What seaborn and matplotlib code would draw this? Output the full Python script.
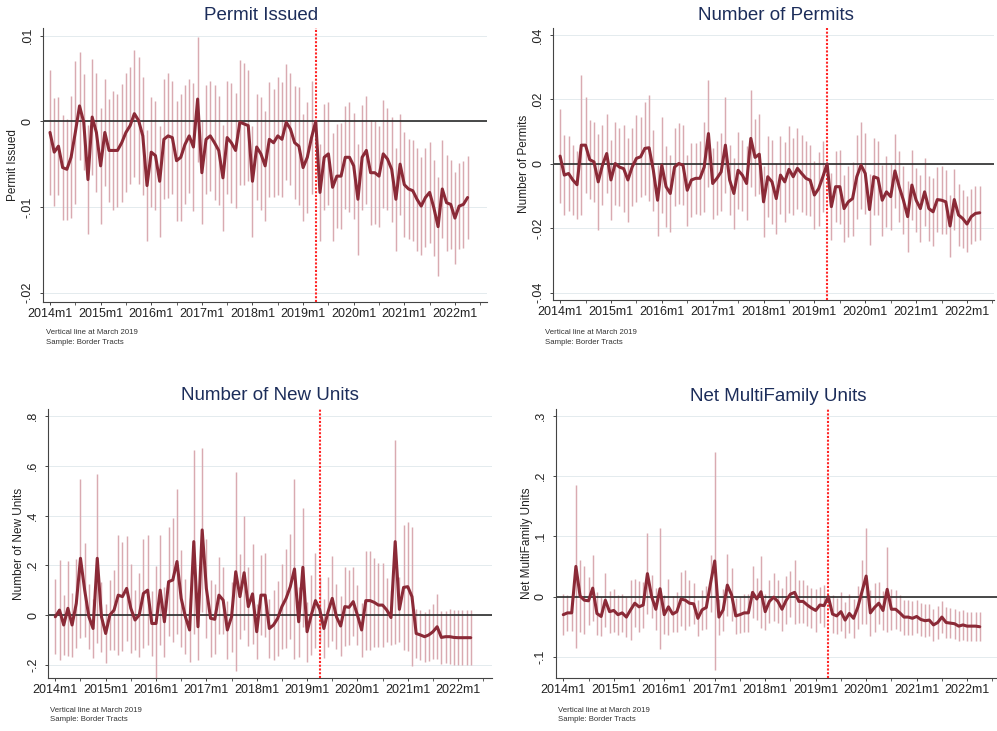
import numpy as np
import pandas as pd
import matplotlib
matplotlib.use("Agg")
import matplotlib.pyplot as plt
import seaborn as sns

sns.set_theme(style="white")
plt.rcParams['font.family'] = ['Liberation Sans', 'DejaVu Sans']

# ---------------- data ----------------
months = np.arange(100)                       # 2014m1 ... 2022m4
xtick_pos = [0, 12, 24, 36, 48, 60, 72, 84, 96]
xtick_labels = ["2014m1", "2015m1", "2016m1", "2017m1", "2018m1",
                "2019m1", "2020m1", "2021m1", "2022m1"]
xminor_pos = [6, 18, 30, 42, 54, 66, 78, 90, 102]
ref_month = 63

titles = ["Permit Issued", "Number of Permits", "Number of New Units", "Net MultiFamily Units"]
ylabels = ["Permit Issued", "Number of Permits", "Number of New Units", "Net MultiFamily Units"]
notes = ["Vertical line at March 2019", "Sample: Border Tracts"]

permit_coef = [
    -0.0013, -0.0036, -0.0029, -0.0054, -0.0056, -0.0042, -0.0013, 0.0018, -0.0001, -0.0068,
    0.0005, -0.0013, -0.0052, -0.0013, -0.0034, -0.0034, -0.0034, -0.0025, -0.0013, -0.0005,
    0.0009, 0.0001, -0.0017, -0.0075, -0.0036, -0.0040, -0.0070, -0.0021, -0.0017, -0.0019,
    -0.0046, -0.0042, -0.0027, -0.0017, -0.0030, 0.0026, -0.0060, -0.0021, -0.0017, -0.0025,
    -0.0034, -0.0066, -0.0019, -0.0025, -0.0034, -0.0001, -0.0003, -0.0005,
    -0.0070, -0.0030, -0.0038, -0.0052, -0.0021, -0.0025, -0.0017, -0.0021, -0.0001, -0.0009,
    -0.0025, -0.0029, -0.0054, -0.0042, -0.0019,
    0.0,
    -0.0083, -0.0042, -0.0038, -0.0077, -0.0064, -0.0064, -0.0042, -0.0042, -0.0052, -0.0091,
    -0.0042, -0.0034, -0.0060, -0.0060, -0.0064, -0.0038, -0.0044, -0.0056, -0.0091, -0.0050,
    -0.0074, -0.0079, -0.0081, -0.0091, -0.0099, -0.0089, -0.0083, -0.0101, -0.0123, -0.0079,
    -0.0095, -0.0097, -0.0113, -0.0099, -0.0097, -0.0089]
permit_ci = [  # half-width of 95% CI, x 0.001
    7.3, 6.3, 5.7, 6.1, 5.9, 7.1, 8.4, 6.3, 5.6, 6.4,
    6.8, 6.9, 6.8, 6.2, 6.0, 6.9, 6.6, 6.9, 6.9, 6.8,
    7.4, 7.4, 6.9, 6.5, 6.4, 6.4, 6.5, 7.0, 7.3, 6.6,
    7.0, 7.4, 6.9, 6.7, 7.5, 7.3, 6.0, 6.4, 6.4, 6.7,
    6.4, 6.2, 6.6, 7.0, 6.7, 7.3, 7.1, 6.5,
    6.5, 6.2, 6.6, 6.4, 6.7, 6.3, 6.9, 6.7, 6.8, 6.5, 6.6, 6.9, 6.2, 6.5, 6.6,
    0.0,
    5.7, 6.2, 6.0, 6.3, 6.1, 6.2, 6.0, 6.4, 6.2, 6.5,
    6.1, 6.3, 6.1, 6.0, 5.9, 6.3, 6.0, 6.1, 6.0, 5.9,
    6.1, 5.8, 5.9, 6.0, 5.7, 5.8, 5.9, 5.6, 5.8, 5.7,
    5.6, 5.2, 5.4, 5.0, 5.1, 4.9]

npermits_coef = [
    0.0024, -0.0035, -0.0030, -0.0050, -0.0065, 0.0058, 0.0058, 0.0013, 0.0006, -0.0056,
    -0.0004, 0.0032, -0.0050, 0.0001, -0.0010, -0.0015, -0.0050, -0.0010, 0.0017, 0.0022,
    0.0048, 0.0050, -0.0020, -0.0113, -0.0004, -0.0071, -0.0092, -0.0010, 0.0001, -0.0004,
    -0.0082, -0.0050, -0.0045, -0.0045, -0.0010, 0.0094, -0.0061, -0.0045, -0.0025, 0.0058,
    -0.0050, -0.0092, -0.0020, -0.0035, -0.0061, 0.0079, 0.0020, 0.0030,
    -0.0118, -0.0040, -0.0056, -0.0108, -0.0035, -0.0056, -0.0017, -0.0040, -0.0014, -0.0030,
    -0.0045, -0.0051, -0.0097, -0.0077, -0.0040,
    0.0,
    -0.0133, -0.0071, -0.0071, -0.0139, -0.0118, -0.0108, -0.0040, -0.0004, -0.0030, -0.0142,
    -0.0040, -0.0045, -0.0113, -0.0087, -0.0102, -0.0022, -0.0071, -0.0113, -0.0164, -0.0066,
    -0.0113, -0.0139, -0.0087, -0.0139, -0.0149, -0.0111, -0.0113, -0.0118, -0.0193, -0.0111,
    -0.0159, -0.0170, -0.0187, -0.0164, -0.0154, -0.0152]
npermits_ci = [  # x 0.001
    14.6, 12.5, 11.5, 11.0, 10.5, 21.7, 15.0, 12.2, 12.4, 15.0,
    12.4, 12.4, 12.5, 13.0, 12.0, 13.5, 13.0, 12.0, 13.5, 12.5,
    14.5, 16.5, 12.5, 11.0, 15.0, 12.5, 12.0, 12.0, 12.5, 12.5,
    11.0, 11.5, 11.0, 11.5, 14.0, 16.5, 11.0, 11.5, 12.0, 15.0,
    11.0, 11.0, 12.0, 11.0, 11.5, 15.0, 12.0, 12.5,
    11.0, 12.5, 13.0, 11.0, 12.0, 12.5, 13.5, 12.0, 12.5, 12.0, 11.5, 11.0, 10.5, 11.5, 11.0,
    0.0,
    10.5, 11.0, 11.5, 10.5, 11.0, 11.5, 13.0, 13.5, 12.5, 11.0,
    12.0, 11.5, 11.0, 11.0, 10.5, 11.5, 11.0, 10.5, 11.0, 11.0,
    10.0, 10.5, 10.5, 10.0, 10.5, 10.0, 10.5, 10.0, 9.7, 9.5,
    9.5, 9.0, 8.6, 8.5, 8.6, 8.4]

newunits_coef = [
    -0.007, 0.020, -0.040, 0.027, -0.040, 0.047, 0.228, 0.100, -0.007, -0.054,
    0.228, -0.007, -0.074, 0.000, 0.020, 0.080, 0.074, 0.107, 0.027, -0.020,
    0.000, 0.087, 0.100, -0.034, -0.034, 0.100, -0.027, 0.134, 0.141, 0.215,
    0.067, -0.007, -0.060, 0.295, -0.047, 0.342, 0.107, -0.013, -0.017, 0.080,
    0.060, -0.060, -0.007, 0.174, 0.074, 0.170, 0.034, 0.085,
    -0.067, 0.080, 0.080, -0.054, -0.040, -0.013, 0.034, 0.067, 0.114, 0.185,
    -0.027, 0.192, -0.067, 0.000, 0.058,
    0.023,
    -0.054, 0.013, 0.067, -0.007, -0.044, 0.034, 0.031, 0.054, 0.000, -0.060,
    0.058, 0.058, 0.051, 0.040, 0.040, 0.020, -0.010, 0.295, 0.023, 0.111,
    0.114, 0.074, -0.074, -0.080, -0.087, -0.080, -0.067, -0.047, -0.090, -0.087,
    -0.087, -0.090, -0.091, -0.091, -0.091, -0.091]
newunits_ci = [  # x 0.01
    15, 20, 12, 19, 13, 18, 32, 19, 13, 12,
    34, 14, 12, 14, 16, 24, 22, 21, 18, 12,
    17, 22, 22, 13, 23, 22, 14, 22, 25, 29,
    19.5, 15, 13, 37, 13.5, 33, 20, 15.5, 14, 15.5,
    13.5, 11.5, 14, 40, 17, 23, 16, 20,
    11, 16, 17, 12, 14, 15, 17, 20, 21, 36, 14, 24, 12, 16, 19,
    13,
    12, 14, 17, 13, 12, 16, 15, 14, 12, 11,
    20, 20, 18, 17, 17, 13, 11, 41, 13, 25,
    26, 28, 10, 10, 10, 10.5, 11, 13, 10.5, 10.5,
    11, 11, 11, 11, 11, 11]

netmf_coef = [
    -0.030, -0.027, -0.027, 0.050, 0.001, -0.006, -0.007, 0.014, -0.028, -0.033,
    -0.006, -0.025, -0.023, -0.030, -0.027, -0.034, -0.022, -0.011, -0.017, -0.014,
    0.038, 0.000, -0.021, 0.013, -0.030, -0.017, -0.029, -0.025, -0.004, -0.006,
    -0.011, -0.012, -0.036, -0.022, -0.018, 0.022, 0.059, -0.034, -0.022, 0.019,
    0.003, -0.032, -0.030, -0.027, -0.027, 0.007, -0.004, 0.008,
    -0.025, -0.008, -0.001, -0.008, -0.021, -0.006, 0.004, 0.007, -0.008, -0.008,
    -0.014, -0.019, -0.023, -0.014, -0.015,
    0.0,
    -0.029, -0.032, -0.025, -0.039, -0.028, -0.036, -0.018, 0.008, 0.034, -0.027,
    -0.018, -0.011, -0.023, 0.012, -0.021, -0.021, -0.027, -0.034, -0.034, -0.036,
    -0.033, -0.038, -0.040, -0.039, -0.047, -0.043, -0.034, -0.043, -0.044, -0.045,
    -0.049, -0.047, -0.049, -0.049, -0.049, -0.050]
netmf_ci = [  # x 0.01
    3.4, 3.0, 3.0, 13.5, 6.0, 5.6, 4.0, 5.5, 3.5, 3.3,
    4.5, 3.5, 3.5, 3.3, 3.2, 3.3, 5.0, 4.0, 4.2, 3.8,
    6.7, 3.6, 3.5, 10.0, 3.2, 4.6, 3.0, 3.3, 4.4, 5.0,
    3.8, 3.4, 3.0, 3.3, 3.6, 4.7, 18.0, 3.0, 3.5, 5.2,
    4.4, 3.0, 3.0, 3.2, 3.2, 4.3, 3.5, 6.0,
    3.0, 3.5, 4.0, 3.5, 3.6, 4.0, 3.8, 5.3, 3.5, 3.6, 3.4, 3.3, 3.5, 3.0, 3.5,
    0.0,
    3.2, 3.0, 3.2, 3.0, 3.3, 3.2, 3.5, 5.3, 8.0, 3.8,
    4.0, 3.5, 3.3, 7.0, 3.4, 3.2, 3.0, 2.9, 2.9, 2.8,
    2.8, 2.8, 2.7, 2.7, 2.6, 2.7, 2.6, 2.6, 2.5, 2.5,
    2.5, 2.5, 2.4, 2.4, 2.4, 2.4]

ci_scales = [0.001, 0.001, 0.01, 0.01]
series = [(permit_coef, permit_ci), (npermits_coef, npermits_ci),
          (newunits_coef, newunits_ci), (netmf_coef, netmf_ci)]

ytick_pos = [[-0.02, -0.01, 0, 0.01],
             [-0.04, -0.02, 0, 0.02, 0.04],
             [-0.2, 0, 0.2, 0.4, 0.6, 0.8],
             [-0.1, 0, 0.1, 0.2, 0.3]]
ytick_labels = [["-.02", "-.01", "0", ".01"],
                ["-.04", "-.02", "0", ".02", ".04"],
                ["-.2", "0", ".2", ".4", ".6", ".8"],
                ["-.1", "0", ".1", ".2", ".3"]]

# ---------------- layout (pixels) ----------------
W, H = 997, 731
axes_px = [(42.7, 28, 487, 302), (553.3, 28, 993.7, 300),
           (48.3, 409, 491.7, 678), (555.7, 409, 997, 678)]
xlims = [(-1.73, 103.6), (-1.6, 102.3), (-1.67, 104.0), (-1.8, 103.1)]
ylims = [(-0.0211, 0.0109), (-0.0423, 0.0422), (-0.253, 0.828), (-0.135, 0.311)]
title_px = [(261, 15), (776, 15), (270, 395), (778, 396)]
note_px = [(46, 333), (545, 333), (50, 710), (558, 710)]
ylab_x = [-0.066, -0.066, -0.0655, -0.064]

LINE = "#8b2a37"
CI = "#d9aab1"
TITLE = "#1c2d5a"

fig = plt.figure(figsize=(W / 100, H / 100), dpi=100)
fig.patch.set_facecolor("white")

for k in range(4):
    x0, y0, x1, y1 = axes_px[k]
    ax = fig.add_axes([x0 / W, 1 - y1 / H, (x1 - x0) / W, (y1 - y0) / H])
    coef, hw = series[k]
    coef = np.asarray(coef)
    hw = np.asarray(hw) * ci_scales[k]
    df = pd.DataFrame({"month": months, "coef": coef,
                       "lo": coef - hw, "hi": coef + hw})
    d = df[hw > 0]

    ax.set_xlim(*xlims[k])
    ax.set_ylim(*ylims[k])
    for yv in ytick_pos[k]:
        ax.axhline(yv, color="#e4ebee", lw=0.7, zorder=0)
    ax.vlines(d["month"], d["lo"], d["hi"], color=CI, lw=1.05, zorder=1)
    ax.axhline(0, color="#2a2a2a", lw=1.2, zorder=2)
    ax.axvline(ref_month, color="#ff2626", lw=1.5, ls=(0, (1, 0.8)), zorder=3)
    sns.lineplot(data=df, x="month", y="coef", ax=ax, color=LINE, lw=2.2,
                 zorder=4, estimator=None)

    ax.set_xticks(xtick_pos)
    ax.set_xticklabels(xtick_labels, fontsize=9, color="#222222")
    ax.set_xticks(xminor_pos, minor=True)
    ax.set_yticks(ytick_pos[k])
    ax.set_yticklabels(ytick_labels[k], fontsize=9, color="#222222",
                       rotation=90, va="center")
    ax.tick_params(axis="x", which="major", direction="out", length=2.5,
                   width=0.7, pad=2, color="#444444", bottom=True)
    ax.tick_params(axis="x", which="minor", direction="out", length=2.0,
                   width=0.6, color="#444444", bottom=True)
    ax.tick_params(axis="y", direction="out", length=2.5, width=0.7,
                   pad=4, color="#444444", left=True)
    ax.grid(False)
    for s in ["top", "right"]:
        ax.spines[s].set_visible(False)
    for s in ["left", "bottom"]:
        ax.spines[s].set_color("#444444")
        ax.spines[s].set_linewidth(0.8)
    ax.set_xlabel("")
    ax.set_ylabel(ylabels[k], fontsize=8.5, color="#222222", va="center")
    ax.yaxis.set_label_coords(ylab_x[k], 0.5)
    ax.set_facecolor("white")

    tx, ty = title_px[k]
    fig.text(tx / W, 1 - ty / H, titles[k], ha="center", va="center",
             fontsize=13.5, color=TITLE)
    nx, ny = note_px[k]
    fig.text(nx / W, 1 - ny / H, notes[0], ha="left", va="center",
             fontsize=5.6, color="#333333")
    fig.text(nx / W, 1 - (ny + 9.5) / H, notes[1], ha="left", va="center",
             fontsize=5.6, color="#333333")

fig.savefig("out.png", dpi=100, facecolor="white")
